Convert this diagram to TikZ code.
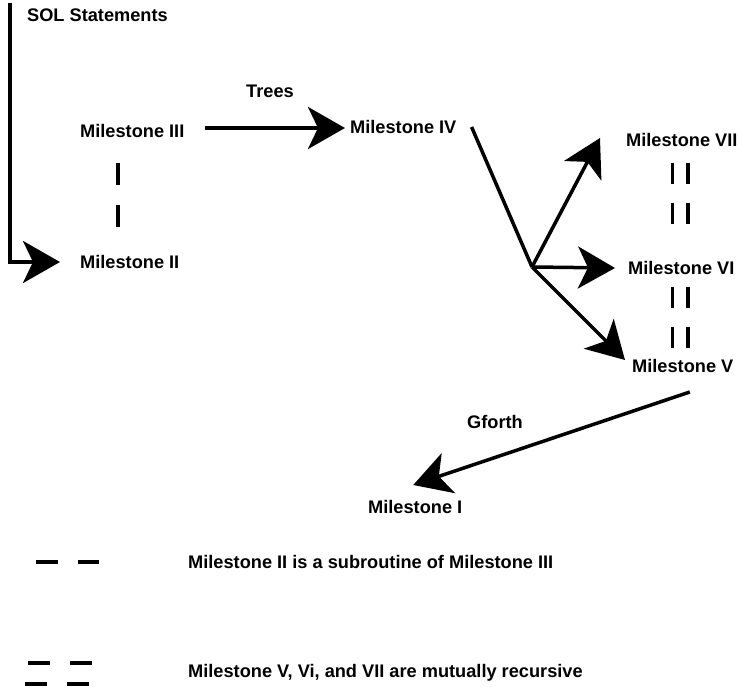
\documentclass[tikz,border=0pt]{standalone}
\usepackage{fontspec}
\setmainfont{Liberation Sans}
\usepackage{tikz}
\usetikzlibrary{arrows.meta,positioning,calc}

\tikzset{
    lbl/.style={font=\fontsize{18.2}{21}\selectfont\bfseries, inner sep=0pt, anchor=west},
    arr/.style={line width=3.5pt, -{Stealth[length=37pt, width=42pt, inset=10pt]}},
    plain/.style={line width=3.5pt},
    subr/.style={line width=3.5pt, dash pattern=on 22pt off 20pt},
    recur/.style={line width=3.5pt, double distance=12pt, dash pattern=on 21pt off 19pt}
}

\begin{document}
\begin{tikzpicture}[x=1pt, y=-1pt]
    \useasboundingbox (0,0) rectangle (740,687);
    % Milestones
    \node[lbl] (sol) at (27,15) {SOL Statements};
    \node[lbl] (m3) at (80,131) {Milestone III};
    \node[lbl] (m2) at (80,262) {Milestone II};
    \node[lbl] (m4) at (350,127) {Milestone IV};
    \node[lbl] (m7) at (626,140) {Milestone VII};
    \node[lbl] (m6) at (628,268) {Milestone VI};
    \node[lbl] (m5) at (632,366) {Milestone V};
    \node[lbl] (m1) at (368,507) {Milestone I};
    % Edge labels
    \node[lbl, anchor=center] (trees) at (270,91) {Trees};
    \node[lbl, anchor=center] (gforth) at (495,422) {Gforth};
    \coordinate (split) at (532,267);
    % Arrows
    \draw[arr] ([xshift=-17pt,yshift=12pt]sol.west) |- ([xshift=-20pt]m2.west);
    \draw[arr] ([xshift=20pt,yshift=3pt]m3.east) -- ([xshift=-5pt,yshift=-1pt]m4.west);
    \draw[plain] ([xshift=15pt]m4.east) -- (split);
    \draw[arr] (split) -- ([xshift=-26pt,yshift=2pt]m7.west);
    \draw[arr] (split) -- ([xshift=-13pt]m6.west);
    \draw[arr] (split) -- ([xshift=-7pt,yshift=6pt]m5.west);
    \draw[arr] ([shift={(7pt,-26pt)}]m5.center) -- ([shift={(-2pt,22pt)}]m1.center);
    % Subroutine and recursion marks
    \draw[subr] (118,163) -- (118,230);
    \draw[recur] (680,163) -- (680,225);
    \draw[recur] (680,287) -- (680,348);
    % Legend
    \draw[subr] (36,562) -- (99,562);
    \node[lbl] (key1) at (188,562) {Milestone II is a subroutine of Milestone III};
    \draw[line width=3.5pt, dash pattern=on 22pt off 20pt] (28,663) -- (92,663);
    \draw[line width=3.5pt, dash pattern=on 22pt off 20pt] (25,684) -- (89,684);
    \node[lbl] (key2) at (188,673) {Milestone V, Vi, and VII are mutually recursive};
\end{tikzpicture}
\end{document}
